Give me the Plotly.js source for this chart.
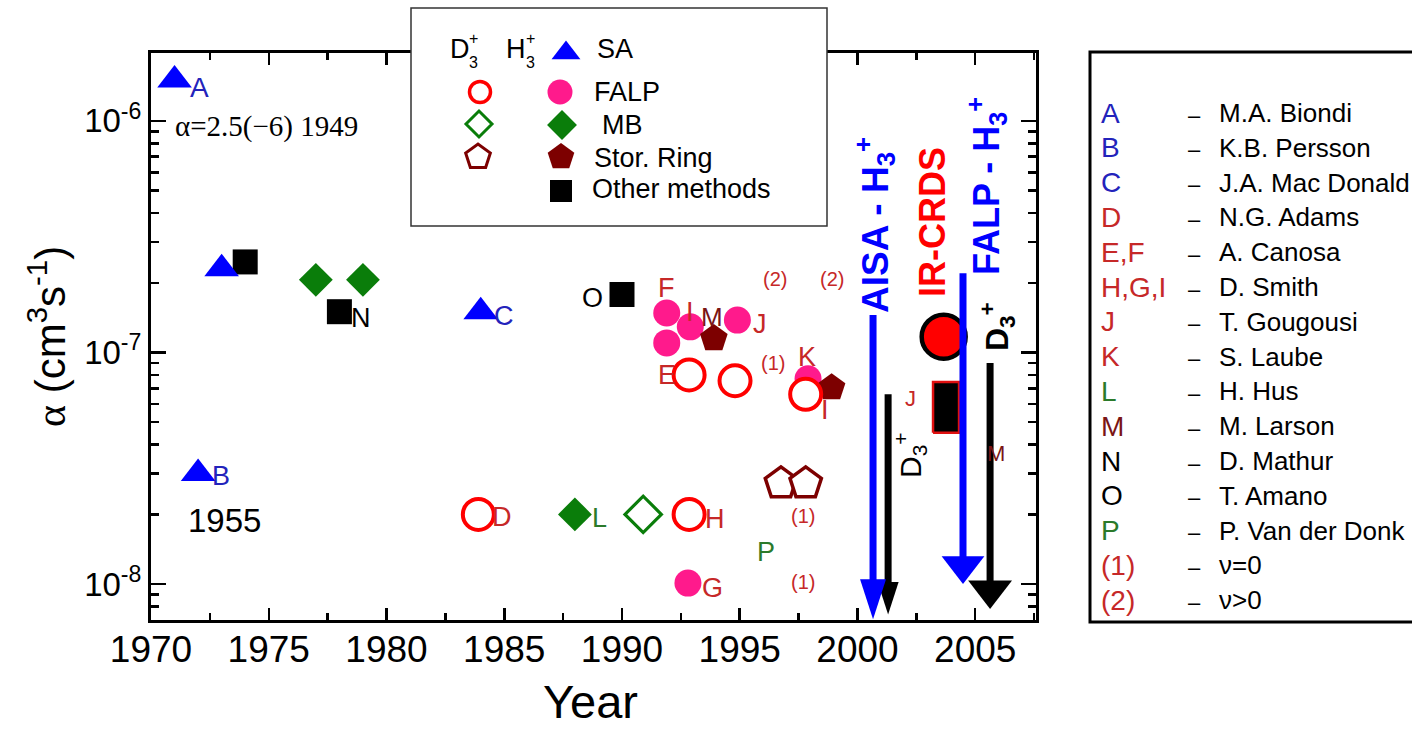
<!DOCTYPE html>
<html><head><meta charset="utf-8">
<script src="https://cdn.plot.ly/plotly-3.0.1.min.js"></script>
<style>html,body{margin:0;padding:0;background:#fff;}#chart{width:1412px;height:729px;}</style>
</head><body><div id="chart"></div>
<script>
// ---------------- DATA (year, recombination rate coefficient alpha) ----------------
// SA (stationary afterglow), H3+
const saYear  = [1971, 1972, 1973, 1984];
const saAlpha = [1.5e-6, 3.0e-8, 2.3e-7, 1.5e-7];
// FALP, H3+
const falpHYear  = [1991.9, 1991.9, 1992.9, 1994.9, 1997.9, 1992.8];
const falpHAlpha = [1.48e-7, 1.10e-7, 1.29e-7, 1.38e-7, 7.7e-8, 1.01e-8];
// FALP, D3+
const falpDYear  = [1983.9, 1992.85, 1992.85, 1994.8, 1997.8];
const falpDAlpha = [2.0e-8, 2.0e-8, 8.0e-8, 7.55e-8, 6.6e-8];
// MB (merged beams), H3+ and D3+
const mbHYear  = [1977, 1979, 1988];
const mbHAlpha = [2.06e-7, 2.06e-7, 2.0e-8];
const mbDYear  = [1990.9];
const mbDAlpha = [2.0e-8];
// Storage ring, H3+ and D3+
const srHYear  = [1993.9, 1998.9];
const srHAlpha = [1.15e-7, 7.05e-8];
const srDYear  = [1996.75, 1997.8];
const srDAlpha = [2.72e-8, 2.72e-8];
// Other methods, H3+
const omYear  = [1974, 1978, 1990];
const omAlpha = [2.46e-7, 1.5e-7, 1.78e-7];
// IR-CRDS
const crdsYear  = [2003.66];
const crdsAlpha = [1.17e-7];
// Other method, D3+ (range)
const rangeYear = [2003.76];
const rangeLow  = [4.5e-8];
const rangeHigh = [7.46e-8];
// Upper limits (arrows): AISA D3+, FALP D3+, AISA H3+, FALP H3+
const limYear = [2001.3, 2005.63, 2000.66, 2004.48];
const limTop  = [6.6e-8, 9.0e-8, 1.45e-7, 2.2e-7];
const limTip  = [7.4e-9, 7.8e-9, 7.05e-9, 1.0e-8];

// Axis ticks
const xTickVals = [1970, 1975, 1980, 1985, 1990, 1995, 2000, 2005];
const yTickVals = [1e-8, 1e-7, 1e-6];
const yTickText = ['10<sup>-8</sup>', '10<sup>-7</sup>', '10<sup>-6</sup>'];

// Reference list (right box)
const refLetters = ['A','B','C','D','E,F','H,G,I','J','K','L','M','N','O','P','(1)','(2)'];
const refNames = ['M.A. Biondi','K.B. Persson','J.A. Mac Donald','N.G. Adams','A. Canosa','D. Smith',
  'T. Gougousi','S. Laube','H. Hus','M. Larson','D. Mathur','T. Amano','P. Van der Donk','ν=0','ν&gt;0'];
const refKind = ['b','b','b','r','r','r','r','r','g','m','k','k','g','r','r'];

// Method legend labels
const methodNames = ['SA', 'FALP', 'MB', 'Stor. Ring', 'Other methods'];

// ---------------- GEOMETRY / STYLE ----------------
const W = 1412, H = 729;
const PL = 151, PR = 1036, PT = 53, PB = 620;
const X_RANGE = [1970, 2007.58];
const Y_RANGE = [-8.155, -5.707];
const pxPerYear = (PR - PL) / (X_RANGE[1] - X_RANGE[0]);
const pxPerDecade = (PB - PT) / (Y_RANGE[1] - Y_RANGE[0]);

const SANS = "Arial, 'Liberation Sans', sans-serif";
const SERIF = "'Liberation Serif', 'Times New Roman', serif";

const C = {
  blue: '#0000ff', pink: '#ff1a8c', red: '#ff0000', green: '#0a7d0a', dred: '#7d0000', black: '#000000',
  lb: '#2323bb', lr: '#c62828', lg: '#2b7a2b', lm: '#7a1515', lk: '#000000'
};
const kindColor = {b: C.lb, r: C.lr, g: C.lg, m: C.lm, k: C.lk};

function pts(x, y, symbol, size, color, lineColor, lineWidth) {
  return {
    type: 'scatter', mode: 'markers', x: x, y: y, xaxis: 'x', yaxis: 'y',
    cliponaxis: false, hoverinfo: 'skip', showlegend: false,
    marker: {symbol: symbol, size: size, color: color, opacity: 1,
             line: {color: lineColor || color, width: lineWidth || 0}}
  };
}
function shiftLog(v, px) { return Math.pow(10, Math.log10(v) + px / pxPerDecade); }

const traces = [];
traces.push(pts(omYear, omAlpha, 'square', 25, C.black));
traces.push(pts(saYear, saAlpha, 'triangle-up', 30, C.blue));
traces.push(pts(mbHYear, mbHAlpha, 'diamond', 26, C.green));
traces.push(pts(falpHYear, falpHAlpha, 'circle', 27, C.pink));
traces.push(pts(srHYear, srHAlpha, 'pentagon', 29, C.dred));
traces.push(pts(falpDYear, falpDAlpha, 'circle', 31, '#ffffff', C.red, 4));
traces.push(pts(mbDYear, mbDAlpha, 'diamond', 28, '#ffffff', C.green, 3.2));
traces.push(pts(srDYear, srDAlpha, 'pentagon', 33, '#ffffff', C.dred, 3.5));

// range box (other method, D3+)
const hw = 13 / pxPerYear;
traces.push({type: 'scatter', mode: 'lines', xaxis: 'x', yaxis: 'y', hoverinfo: 'skip', showlegend: false,
  x: [rangeYear[0] - hw, rangeYear[0] + hw, rangeYear[0] + hw, rangeYear[0] - hw, rangeYear[0] - hw],
  y: [rangeLow[0], rangeLow[0], rangeHigh[0], rangeHigh[0], rangeLow[0]],
  fill: 'toself', fillcolor: '#000', line: {color: '#e01010', width: 2.5}});
// IR-CRDS
traces.push(pts(crdsYear, crdsAlpha, 'circle', 44, C.red, C.black, 4.5));

// upper-limit arrows
const heads = [
  {color: C.black, sym: 'arrow', size: 34},
  {color: C.black, sym: 'triangle-down', size: 38},
  {color: C.blue, sym: 'arrow', size: 42},
  {color: C.blue, sym: 'triangle-down', size: 37}
];
limYear.forEach(function (yr, i) {
  const h = heads[i], r = h.size / 2;
  let headLen, markY, angle = 0;
  if (h.sym === 'arrow') { headLen = 1.902 * r; markY = limTip[i]; angle = 180; }
  else { headLen = 1.5 * r; markY = shiftLog(limTip[i], r); }
  const base = shiftLog(limTip[i], headLen - 3);
  traces.push({type: 'scatter', mode: 'lines', xaxis: 'x', yaxis: 'y', hoverinfo: 'skip', showlegend: false,
    cliponaxis: false, x: [yr, yr], y: [limTop[i], base], line: {color: h.color, width: 7}});
  traces.push({type: 'scatter', mode: 'markers', xaxis: 'x', yaxis: 'y', hoverinfo: 'skip', showlegend: false,
    cliponaxis: false, x: [yr], y: [markY],
    marker: {symbol: h.sym, size: h.size, color: h.color, opacity: 1, angle: angle, line: {width: 0}}});
});

// method legend markers (pixel overlay)
const legMarks = [
  {x: 566, y: 53, s: 'triangle-up', size: 25, c: C.blue, lc: C.blue, lw: 0},
  {x: 480, y: 92, s: 'circle', size: 21, c: '#fff', lc: C.red, lw: 3.5},
  {x: 560, y: 92, s: 'circle', size: 25, c: C.pink, lc: C.pink, lw: 0},
  {x: 479, y: 124, s: 'diamond', size: 20, c: '#fff', lc: C.green, lw: 3},
  {x: 562, y: 125, s: 'diamond', size: 23, c: C.green, lc: C.green, lw: 0},
  {x: 478, y: 157, s: 'pentagon', size: 26, c: '#fff', lc: C.dred, lw: 3},
  {x: 561, y: 157, s: 'pentagon', size: 28, c: C.dred, lc: C.dred, lw: 0},
  {x: 561, y: 191, s: 'square', size: 22, c: C.black, lc: C.black, lw: 0}
];
traces.push({type: 'scatter', mode: 'markers', xaxis: 'x2', yaxis: 'y2', hoverinfo: 'skip', showlegend: false,
  cliponaxis: false,
  x: legMarks.map(m => m.x), y: legMarks.map(m => m.y),
  marker: {symbol: legMarks.map(m => m.s), size: legMarks.map(m => m.size), color: legMarks.map(m => m.c),
           opacity: 1, line: {color: legMarks.map(m => m.lc), width: legMarks.map(m => m.lw)}}});

// ---------------- ANNOTATIONS (pixel overlay) ----------------
function txt(text, x, y, color, size, opts) {
  return Object.assign({xref: 'x2', yref: 'y2', x: x, y: y, text: text, showarrow: false,
    xanchor: 'center', yanchor: 'middle', font: {family: SANS, size: size, color: color}}, opts || {});
}
const ann = [];
// point labels
[
  ['A', 199, 87, C.lb, 28], ['B', 221, 476, C.lb, 27], ['C', 504, 316, C.lb, 27],
  ['D', 502, 517, C.lr, 27], ['E', 667, 375, C.lr, 27], ['F', 666, 288, C.lr, 27],
  ['I', 690, 312, C.lr, 27], ['M', 712, 317, C.lm, 26], ['J', 760, 324, C.lr, 27],
  ['K', 807, 357, C.lr, 27], ['I', 825, 410, C.lr, 27], ['L', 599, 518, C.lg, 27],
  ['H', 715, 519, C.lr, 27], ['G', 712, 588, C.lr, 27], ['P', 766, 552, C.lg, 27],
  ['N', 361, 318, C.lk, 27], ['O', 592, 298, C.lk, 27],
  ['(1)', 773, 363, C.lr, 20], ['(1)', 803, 516, C.lr, 20], ['(1)', 803, 582, C.lr, 20],
  ['(2)', 775, 279, C.lr, 20], ['(2)', 832, 279, C.lr, 20],
  ['J', 910, 398, C.lr, 22], ['M', 996, 453, C.lm, 22],
  ['1955', 224, 520, C.lk, 33]
].forEach(a => ann.push(txt(a[0], a[1], a[2], a[3], a[4])));
ann.push(txt('α=2.5(−6) 1949', 266, 126, '#000', 29, {font: {family: SERIF, size: 29, color: '#000'}}));

// rotated method labels
ann.push(txt('<b>AISA - H<sub>3</sub><sup>+</sup></b>', 874, 225, C.blue, 37, {textangle: -90}));
ann.push(txt('<b>IR-CRDS</b>', 932, 222, C.red, 36, {textangle: -90}));
ann.push(txt('<b>FALP - H<sub>3</sub><sup>+</sup></b>', 986, 186, C.blue, 36, {textangle: -90}));
ann.push(txt('<b>D<sub>3</sub><sup>+</sup></b>', 997, 327, C.black, 32, {textangle: -90}));
ann.push(txt('D<sub>3</sub><sup>+</sup>', 910, 455, C.black, 30, {textangle: -90}));

// axis titles
ann.push(txt('<span style="font-family:\'Liberation Serif\',serif">α</span> (cm<sup>3</sup>s<sup>-1</sup>)', 47, 337, '#000', 42, {textangle: -90}));
ann.push(txt('Year', 590, 729, '#000', 47, {yanchor: 'bottom', borderpad: 0}));

// method legend text
ann.push(txt('D', 460, 49, '#000', 27));
ann.push(txt('+', 473, 38, '#000', 16));
ann.push(txt('3', 473, 62, '#000', 16));
ann.push(txt('H', 516, 49, '#000', 27));
ann.push(txt('+', 530, 38, '#000', 16));
ann.push(txt('3', 530, 62, '#000', 16));
const methodY = [49, 92, 125, 158, 189];
const methodX = [595, 592, 600, 592, 590];
methodNames.forEach((t, i) => ann.push(txt(t, methodX[i], methodY[i], '#000', 27, {xanchor: 'left'})));

// reference list
refLetters.forEach((t, i) => {
  const y = 113 + i * 34.8;
  ann.push(txt(t, 1099, y, kindColor[refKind[i]], 28, {xanchor: 'left'}));
  ann.push(txt('–', 1194, y + 2, '#000', 22));
  ann.push(txt(refNames[i], 1217, y, '#000', 26, {xanchor: 'left'}));
});

// ---------------- LAYOUT ----------------
const minorY = [];
[-9, -8, -7, -6].forEach(e => { for (let k = 2; k <= 9; k++) minorY.push(k * Math.pow(10, e)); });

const axisCommon = {showline: true, linewidth: 3, linecolor: '#000', mirror: 'ticks', ticks: 'inside',
  tickcolor: '#000', tickwidth: 2.5, showgrid: false, zeroline: false, fixedrange: true};

const layout = {
  width: W, height: H, margin: {l: 0, r: 0, t: 0, b: 0, pad: 0},
  paper_bgcolor: '#fff', plot_bgcolor: 'rgba(0,0,0,0)', showlegend: false,
  xaxis: Object.assign({}, axisCommon, {
    domain: [PL / W, PR / W], range: X_RANGE, anchor: 'y',
    tickmode: 'array', tickvals: xTickVals, ticktext: xTickVals.map(String), ticklen: 12,
    ticklabelstandoff: -5,
    minor: {ticks: 'inside', tick0: 1970, dtick: 2.5, ticklen: 7, tickwidth: 2.5, tickcolor: '#000'},
    tickfont: {family: SANS, size: 37, color: '#000'}
  }),
  yaxis: Object.assign({}, axisCommon, {
    type: 'log', domain: [(H - PB) / H, (H - PT) / H], range: Y_RANGE, anchor: 'x',
    tickmode: 'array', tickvals: yTickVals, ticktext: yTickText, ticklen: 15,
    minor: {ticks: 'inside', tickmode: 'array', tickvals: minorY, ticklen: 8, tickwidth: 2.5, tickcolor: '#000'},
    tickfont: {family: SANS, size: 33, color: '#000'}
  }),
  xaxis2: {domain: [0, 1], range: [0, W], visible: false, anchor: 'y2', fixedrange: true},
  yaxis2: {domain: [0, 1], range: [H, 0], visible: false, anchor: 'x2', fixedrange: true},
  shapes: [
    {type: 'rect', xref: 'x2', yref: 'y2', x0: 411, x1: 827, y0: 8, y1: 226, fillcolor: '#fff',
     line: {color: '#333', width: 1.5}, layer: 'below'},
    {type: 'rect', xref: 'x2', yref: 'y2', x0: 1090, x1: 1500, y0: 52, y1: 622, fillcolor: 'rgba(0,0,0,0)',
     line: {color: '#000', width: 3}, layer: 'below'}
  ],
  annotations: ann
};

Plotly.newPlot('chart', traces, layout, {staticPlot: true, displayModeBar: false});
</script></body></html>
